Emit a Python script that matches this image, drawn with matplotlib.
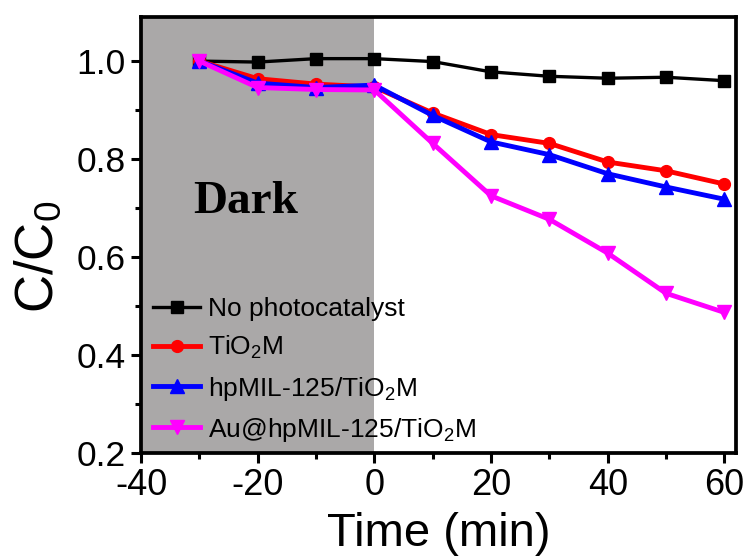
#!/usr/bin/env python3
import matplotlib
matplotlib.use('Agg')
import matplotlib.pyplot as plt
from matplotlib.ticker import MultipleLocator

plt.rcParams['font.family'] = ['Liberation Sans', 'DejaVu Sans']
plt.rcParams['mathtext.fontset'] = 'custom'
plt.rcParams['mathtext.rm'] = 'Liberation Sans'
plt.rcParams['mathtext.it'] = 'Liberation Sans'
plt.rcParams['axes.unicode_minus'] = False

# data
time = [-30, -20, -10, 0, 10, 20, 30, 40, 50, 60]
no_cat = [1.000, 0.998, 1.005, 1.005, 0.999, 0.978, 0.969, 0.965, 0.967, 0.960]
tio2 = [1.000, 0.964, 0.953, 0.947, 0.894, 0.850, 0.832, 0.794, 0.776, 0.749]
hpmil = [1.000, 0.955, 0.946, 0.951, 0.889, 0.835, 0.809, 0.770, 0.743, 0.718]
au_hpmil = [1.000, 0.946, 0.942, 0.941, 0.832, 0.725, 0.677, 0.608, 0.526, 0.487]

labels = ['No photocatalyst', 'TiO$_2$M', 'hpMIL-125/TiO$_2$M', 'Au@hpMIL-125/TiO$_2$M']

fig = plt.figure(figsize=(7.47, 5.59), dpi=100)
ax = fig.add_axes([0.1888, 0.1896, 0.7965, 0.78])

ax.axvspan(-40, 0, color='#aaa8a8', lw=0, zorder=0)

ax.plot(time, no_cat, color='black', marker='s', ms=8, lw=2.4, label=labels[0])
ax.plot(time, tio2, color='red', marker='o', ms=8.5, lw=3.5, label=labels[1])
ax.plot(time, hpmil, color='blue', marker='^', ms=9.5, lw=3.5, label=labels[2])
ax.plot(time, au_hpmil, color='magenta', marker='v', ms=9.5, lw=3.5, label=labels[3])

ax.text(-31.1, 0.713, 'Dark', family='Liberation Serif', fontweight='bold',
        fontsize=34, va='center', ha='left')

ax.set_xlim(-40, 62)
ax.set_ylim(0.2, 1.09)
ax.xaxis.set_major_locator(MultipleLocator(20))
ax.xaxis.set_minor_locator(MultipleLocator(10))
ax.yaxis.set_major_locator(MultipleLocator(0.2))
ax.yaxis.set_minor_locator(MultipleLocator(0.1))
ax.yaxis.set_major_formatter(matplotlib.ticker.FormatStrFormatter('%.1f'))

for s in ax.spines.values():
    s.set_linewidth(2.7)
ax.tick_params(which='major', length=7, width=2.2, direction='out')
ax.tick_params(which='minor', length=4.5, width=2.2, direction='out')
ax.tick_params(axis='x', labelsize=26, pad=4)
ax.tick_params(axis='y', labelsize=25.5, pad=4)

ax.set_xlabel('Time (min)', fontsize=34, labelpad=6)
ax.set_ylabel('C/C$_0$', fontsize=38)
ax.yaxis.set_label_coords(-0.13, 0.45)

ax.legend(loc='upper left', bbox_to_anchor=(0.02, 0.358), frameon=False,
          fontsize=19, handlelength=1.8, handletextpad=0.3, labelspacing=0.5,
          borderpad=0, borderaxespad=0)

plt.savefig('out.png', dpi=100)
plt.close()
